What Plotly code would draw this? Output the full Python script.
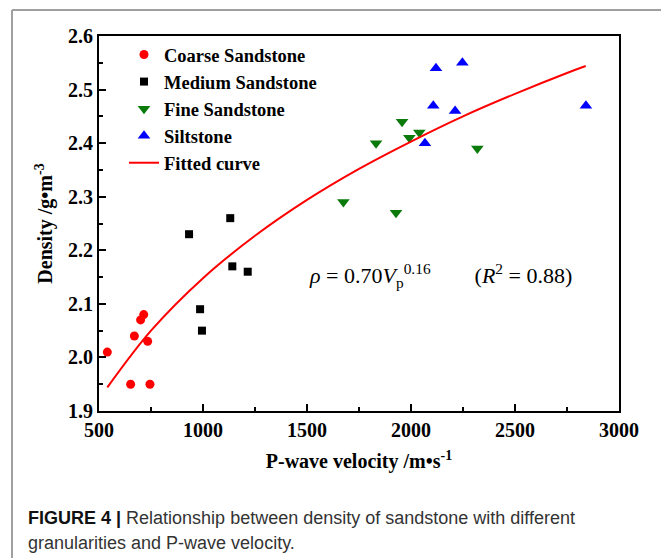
import plotly.graph_objects as go

# Data
coarse_x = [540, 652, 745, 670, 700, 715, 734]
coarse_y = [2.01, 1.95, 1.95, 2.04, 2.07, 2.08, 2.03]

medium_x = [933, 1131, 1141, 1215, 986, 995]
medium_y = [2.23, 2.26, 2.17, 2.16, 2.09, 2.05]

fine_x = [1675, 1832, 1928, 1957, 1992, 2040, 2319]
fine_y = [2.29, 2.40, 2.27, 2.44, 2.41, 2.42, 2.39]

silt_x = [2120, 2247, 2107, 2212, 2067, 2841]
silt_y = [2.54, 2.55, 2.47, 2.46, 2.40, 2.47]

fit_x = [540, 750, 1000, 1250, 1500, 1750, 2000, 2250, 2500, 2750, 2840]
fit_y = [1.944, 2.050, 2.148, 2.227, 2.294, 2.352, 2.403, 2.450, 2.492, 2.531, 2.544]

x_ticks = [500, 1000, 1500, 2000, 2500, 3000]
y_ticks = [1.9, 2.0, 2.1, 2.2, 2.3, 2.4, 2.5, 2.6]

W, H = 661, 558
L, R, T, B = 99, 619, 36, 411  # plot area in pixels

def px(xp):
    return (xp - L) / (R - L)

def py(yp):
    return (B - yp) / (B - T)

serif = "Liberation Serif, Times New Roman, serif"

fig = go.Figure()
fig.add_trace(go.Scatter(x=coarse_x, y=coarse_y, mode="markers", name="Coarse Sandstone",
                         marker=dict(symbol="circle", size=9, color="#ff0000")))
fig.add_trace(go.Scatter(x=medium_x, y=medium_y, mode="markers", name="Medium Sandstone",
                         marker=dict(symbol="square", size=8, color="#000000")))
fig.add_trace(go.Scatter(x=fine_x, y=fine_y, mode="markers", name="Fine Sandstone",
                         marker=dict(symbol="triangle-down", size=11, color="#0a7a0a")))
fig.add_trace(go.Scatter(x=silt_x, y=silt_y, mode="markers", name="Siltstone",
                         marker=dict(symbol="triangle-up", size=11, color="#0000ff")))
fig.add_trace(go.Scatter(x=fit_x, y=fit_y, mode="lines", name="Fitted curve",
                         line=dict(color="#ff0000", width=2, shape="spline")))

axis_common = dict(
    showline=True, linecolor="black", linewidth=2, mirror=True,
    ticks="inside", ticklen=7, tickwidth=1.5, tickcolor="black",
    showgrid=False, zeroline=False,
    tickfont=dict(family=serif, size=20, color="black", weight="bold"),
)

fig.update_layout(
    width=W, height=H,
    margin=dict(l=L, r=W - R, t=T, b=H - B, autoexpand=False),
    paper_bgcolor="white", plot_bgcolor="white",
    showlegend=True,
    legend=dict(x=px(124), y=py(36), xanchor="left", yanchor="top",
                bgcolor="rgba(0,0,0,0)", borderwidth=0, tracegroupgap=0,
                font=dict(family=serif, size=18.5, color="black", weight="bold")),
    xaxis=dict(range=[500, 3000], tickvals=x_ticks, ticktext=[str(v) for v in x_ticks],
               minor=dict(ticks="inside", ticklen=4, dtick=250, tick0=500, tickcolor="black", tickwidth=1.5),
               title=dict(text="P-wave velocity /m•s<sup>-1</sup>", standoff=14,
                          font=dict(family=serif, size=20, color="black", weight="bold")),
               **axis_common),
    yaxis=dict(range=[1.9, 2.6], tickvals=y_ticks, ticktext=[f"{v:.1f}" for v in y_ticks],
               minor=dict(ticks="inside", ticklen=4, dtick=0.05, tick0=1.9, tickcolor="black", tickwidth=1.5),
               title=dict(text="Density /g•m<sup>-3</sup>", standoff=10,
                          font=dict(family=serif, size=20, color="black", weight="bold")),
               **axis_common),
)

# Equation annotation
fig.add_annotation(
    x=px(307), y=py(275), xref="paper", yref="paper", xanchor="left", yanchor="middle",
    showarrow=False,
    text="<i>ρ</i>&nbsp;=&nbsp;0.70<i>V</i><sub>p</sub><sup>0.16</sup>&nbsp;&nbsp;&nbsp;&nbsp;&nbsp;&nbsp;&nbsp;&nbsp;(<i>R</i><sup>2</sup>&nbsp;=&nbsp;0.88)",
    font=dict(family=serif, size=22, color="black"),
)

# Caption
cap_font = dict(family="Liberation Sans, Arial, sans-serif", size=18, color="#333333")
fig.add_annotation(x=px(26), y=py(518), xref="paper", yref="paper", xanchor="left", yanchor="middle",
                   showarrow=False, font=cap_font,
                   text="<b><span style='color:#111111'>FIGURE 4 |</span></b> Relationship between density of sandstone with different")
fig.add_annotation(x=px(26), y=py(543), xref="paper", yref="paper", xanchor="left", yanchor="middle",
                   showarrow=False, font=cap_font,
                   text="granularities and P-wave velocity.")

# Outer frame lines (gray)
fig.add_shape(type="line", xref="paper", yref="paper", x0=px(12), x1=px(12), y0=py(10), y1=py(560),
              line=dict(color="#a0a0a0", width=2))
fig.add_shape(type="line", xref="paper", yref="paper", x0=px(12), x1=px(662), y0=py(10), y1=py(10),
              line=dict(color="#a0a0a0", width=2))

fig.write_html("out.html")
